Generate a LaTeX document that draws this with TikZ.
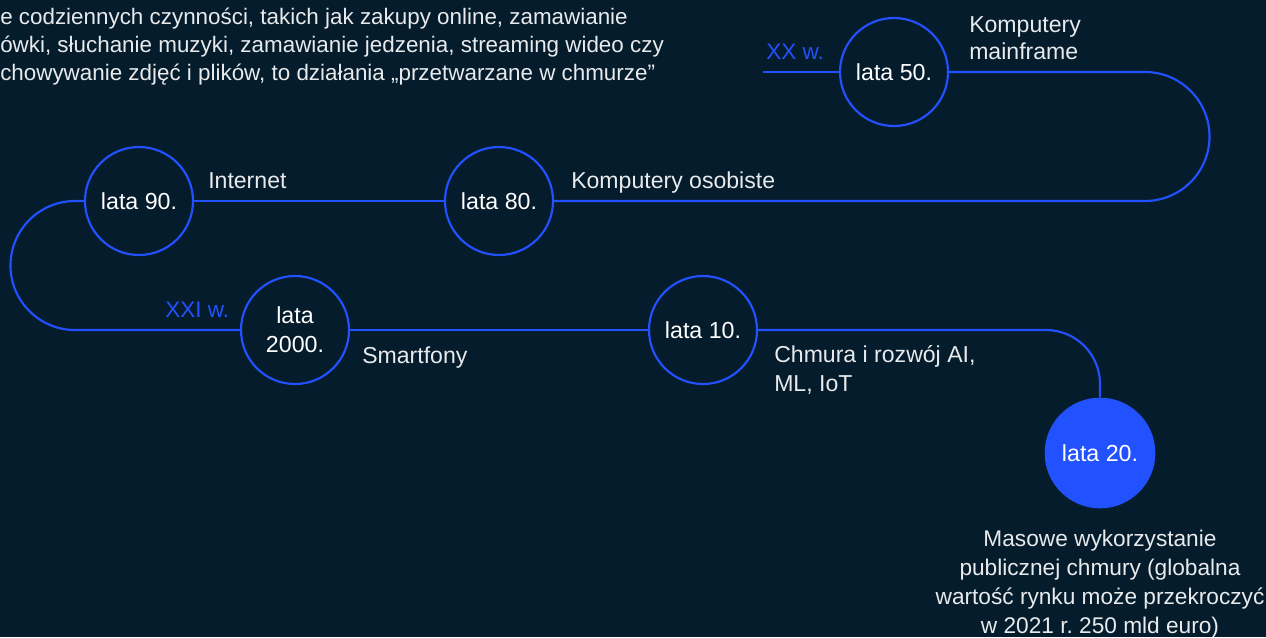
\documentclass[tikz,border=0pt]{standalone}
\usepackage{fontspec}
\setmainfont{Liberation Sans}
\frenchspacing
\definecolor{bg}{HTML}{051C2C}
\definecolor{lineblue}{HTML}{2251FF}
\definecolor{txt}{HTML}{E8EAEC}
\begin{document}
\frenchspacing
\begin{tikzpicture}[x=0.75pt,y=-0.75pt,
  yearnode/.style={circle,draw=lineblue,line width=1.6pt,minimum size=81pt,inner sep=0pt,
    text=white,font=\fontsize{17.4}{22}\selectfont,align=center,fill=bg},
  lastnode/.style={circle,fill=lineblue,minimum size=83pt,inner sep=0pt,
    text=white,font=\fontsize{17.4}{22}\selectfont},
  conn/.style={draw=lineblue,line width=1.6pt},
  label/.style={text=txt,font=\fontsize{17.3}{21.75}\selectfont,inner sep=0pt,anchor=base west,align=left},
  century/.style={text=lineblue,font=\fontsize{16.9}{21}\selectfont,inner sep=0pt,anchor=base west}]
\fill[bg] (0,0) rectangle (1266,637);
\useasboundingbox (0,0) rectangle (1266,637);

\node[label,font=\fontsize{16.8}{21}\selectfont] (intro) at (0,80) {e codziennych czynności, takich jak zakupy online, zamawianie\\ówki, słuchanie muzyki, zamawianie jedzenia, streaming wideo czy\\chowywanie zdjęć i plików, to działania „przetwarzane w chmurze”};

\node[yearnode] (n50) at (894,72) {lata 50.};
\node[yearnode] (n80) at (499,201) {lata 80.};
\node[yearnode] (n90) at (139,201) {lata 90.};
\node[yearnode] (n2000) at (295,330) {lata\\[0pt]2000.};
\node[yearnode] (n10) at (703,330) {lata 10.};
\node[lastnode] (n20) at (1100,453) {lata 20.};

\coordinate (start) at (763,72);
\draw[conn] (start) -- (n50.west);
\draw[conn,rounded corners=48.4pt] (n50.east) -- (1209.5,72) -- (1209.5,201) -- (n80.east);
\draw[conn] (n80.west) -- (n90.east);
\draw[conn,rounded corners=48.4pt] (n90.west) -- (10.5,201) -- (10.5,330) -- (n2000.west);
\draw[conn] (n2000.east) -- (n10.west);
\draw[conn,rounded corners=40.5pt] (n10.east) -- (1100,330) -- (n20.north);

\node[century] (xx) at (766,59) {XX w.};
\node[century] (xxi) at (165,317) {XXI w.};

\node[label,font=\fontsize{17.3}{20.25}\selectfont] (mainframe) at (969,59) {Komputery\\mainframe};
\node[label] (pc) at (571,188) {Komputery osobiste};
\node[label] (internet) at (208,188) {Internet};
\node[label] (smart) at (362,363) {Smartfony};
\node[label] (cloud) at (774,391) {Chmura i rozwój AI,\\ML, IoT};
\node[label,anchor=base,align=center,font=\fontsize{17}{21.75}\selectfont] (mass) at (1100,633) {Masowe wykorzystanie\\publicznej chmury (globalna\\wartość rynku może przekroczyć\\w 2021 r. 250 mld euro)};
\end{tikzpicture}
\end{document}
